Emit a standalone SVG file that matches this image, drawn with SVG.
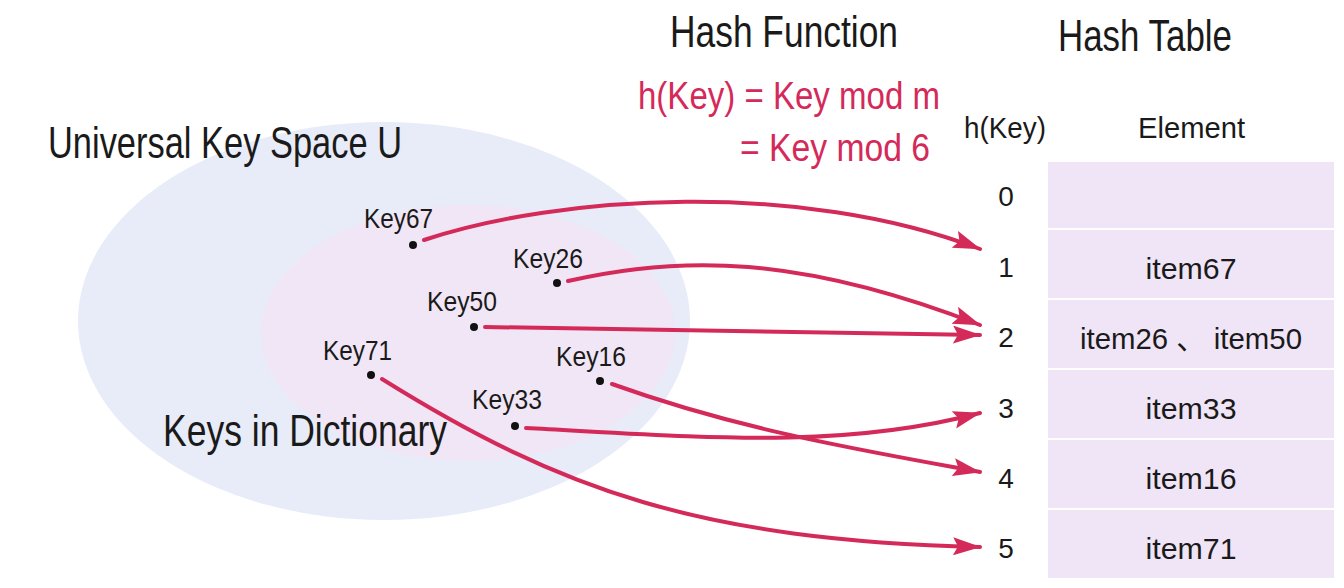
<svg xmlns="http://www.w3.org/2000/svg" width="1344" height="588" viewBox="0 0 1344 588">
<defs>
<style>
text{font-family:"Liberation Sans","DejaVu Sans","Noto Sans CJK SC",sans-serif;fill:#1a1a1a}
.title{font-size:44px}
.red{fill:#d42a5a;font-size:39px}
.key{font-size:27px}
.hdr{font-size:30px}
.idx{font-size:28px;text-anchor:middle}
.item{font-size:30px;text-anchor:middle}
.cell{fill:#f0e5f6}
.dot{fill:#111}
.conn{fill:none;stroke:#d42a5a;stroke-width:4;stroke-linecap:round}
</style>
<marker id="ah" viewBox="0 0 28 18" refX="27" refY="9" markerWidth="28" markerHeight="18" markerUnits="userSpaceOnUse" orient="auto">
<path d="M0,0 L28,9 L0,18 L5,9 Z" fill="#d42a5a"/>
</marker>
</defs>
<rect width="1344" height="588" fill="#ffffff"/>
<g id="universe">
<ellipse cx="384" cy="321" rx="306" ry="199" fill="#e8ebf8"/>
<text class="title" x="48" y="158" textLength="354" lengthAdjust="spacingAndGlyphs">Universal Key Space U</text>
</g>
<g id="dictionary">
<ellipse cx="468" cy="333" rx="207" ry="128" fill="#f1e6f6"/>
<text class="title" x="163" y="446" textLength="284" lengthAdjust="spacingAndGlyphs">Keys in Dictionary</text>
</g>
<g id="hash-function">
<text class="title" x="670" y="47" textLength="228" lengthAdjust="spacingAndGlyphs">Hash Function</text>
<text class="red" x="638" y="109" textLength="302" lengthAdjust="spacingAndGlyphs">h(Key) = Key mod m</text>
<text class="red" x="740" y="161" textLength="190" lengthAdjust="spacingAndGlyphs">= Key mod 6</text>
</g>
<g id="key67"><circle class="dot" cx="413" cy="245" r="4"/><text class="key" x="364" y="228" textLength="69" lengthAdjust="spacingAndGlyphs">Key67</text></g>
<g id="key26"><circle class="dot" cx="557" cy="283" r="4"/><text class="key" x="513" y="268" textLength="70" lengthAdjust="spacingAndGlyphs">Key26</text></g>
<g id="key50"><circle class="dot" cx="474" cy="327" r="4"/><text class="key" x="427" y="311" textLength="70" lengthAdjust="spacingAndGlyphs">Key50</text></g>
<g id="key71"><circle class="dot" cx="371" cy="375" r="4"/><text class="key" x="323" y="360" textLength="69" lengthAdjust="spacingAndGlyphs">Key71</text></g>
<g id="key16"><circle class="dot" cx="600" cy="381" r="4"/><text class="key" x="556" y="366" textLength="70" lengthAdjust="spacingAndGlyphs">Key16</text></g>
<g id="key33"><circle class="dot" cx="515" cy="426" r="4"/><text class="key" x="472" y="409" textLength="70" lengthAdjust="spacingAndGlyphs">Key33</text></g>
<g id="hash-table">
<text class="title" x="1058" y="51" textLength="174" lengthAdjust="spacingAndGlyphs">Hash Table</text>
<text class="hdr" x="964" y="138" textLength="82" lengthAdjust="spacingAndGlyphs">h(Key)</text>
<text class="hdr" x="1138" y="138" textLength="107" lengthAdjust="spacingAndGlyphs">Element</text>
<g id="row0"><rect class="cell" x="1048" y="162" width="286" height="66"/><text class="idx" x="1006" y="206">0</text></g>
<g id="row1"><rect class="cell" x="1048" y="230" width="286" height="68"/><text class="idx" x="1006" y="277">1</text><text class="item" x="1191" y="279" textLength="91" lengthAdjust="spacingAndGlyphs">item67</text></g>
<g id="row2"><rect class="cell" x="1048" y="300" width="286" height="68"/><text class="idx" x="1006" y="347">2</text><text class="item" x="1191" y="349" textLength="222" lengthAdjust="spacingAndGlyphs">item26 、 item50</text></g>
<g id="row3"><rect class="cell" x="1048" y="370" width="286" height="68"/><text class="idx" x="1006" y="418">3</text><text class="item" x="1191" y="419" textLength="91" lengthAdjust="spacingAndGlyphs">item33</text></g>
<g id="row4"><rect class="cell" x="1048" y="440" width="286" height="68"/><text class="idx" x="1006" y="488">4</text><text class="item" x="1191" y="489" textLength="91" lengthAdjust="spacingAndGlyphs">item16</text></g>
<g id="row5"><rect class="cell" x="1048" y="510" width="286" height="68"/><text class="idx" x="1006" y="558">5</text><text class="item" x="1191" y="559" textLength="91" lengthAdjust="spacingAndGlyphs">item71</text></g>
</g>
<g id="connectors">
<path class="conn" marker-end="url(#ah)" d="M424,240 C560,195 800,180 980,249"/>
<path class="conn" marker-end="url(#ah)" d="M568,281 C680,255 800,255 980,325"/>
<path class="conn" marker-end="url(#ah)" d="M485,327 C700,330 850,333 980,335"/>
<path class="conn" marker-end="url(#ah)" d="M612,384 C740,430 860,450 980,472"/>
<path class="conn" marker-end="url(#ah)" d="M526,428 C700,437 840,450 980,413"/>
<path class="conn" marker-end="url(#ah)" d="M382,379 C560,490 700,540 980,547"/>
</g>
</svg>
